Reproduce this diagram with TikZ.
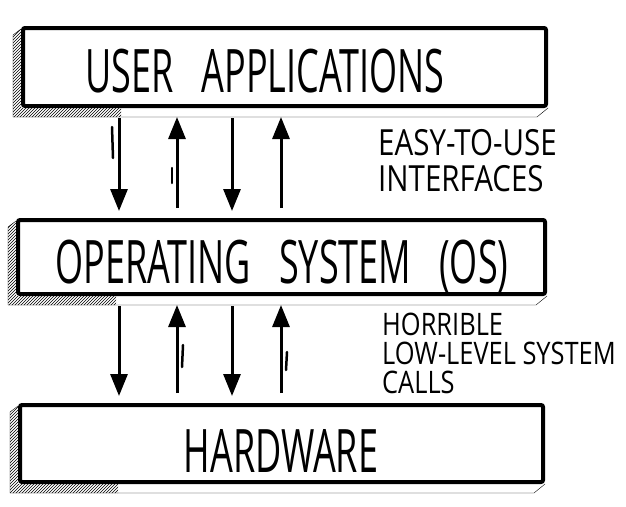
\documentclass[tikz,border=0pt]{standalone}
\usepackage{fontspec}
\newfontfamily\handfont[FakeStretch=0.6,WordSpace=3]{Open Sans}
\newfontfamily\notefont[FakeStretch=0.82]{Open Sans}
\usetikzlibrary{arrows.meta,patterns}

\tikzset{
  layer/.style={draw, line width=4pt, fill=white, rounded corners=2pt, inner sep=0pt},
  title/.style={font=\fontsize{60}{60}\selectfont\handfont, inner sep=0pt, anchor=base},
  note/.style={align=left, anchor=north west, inner sep=0pt},
  call/.style={line width=3pt, -{Triangle[length=22pt,width=17pt]}},
  tick/.style={line width=2.5pt, line cap=round},
  shade/.style={pattern=north east lines}
}

\begin{document}
\begin{tikzpicture}[x=1pt,y=-1pt]
	\useasboundingbox (0,0) rectangle (626,506);
	
	% the three layers
	\node[layer, minimum width=523pt, minimum height=78pt] (user) at (284.5,67) {};
	\node[layer, minimum width=527pt, minimum height=74pt] (os) at (281.5,257) {};
	\node[layer, minimum width=523pt, minimum height=77pt] (hw) at (281.5,443.5) {};
	
	\node[title] (usertext) at (265,92) {USER APPLICATIONS};
	\node[title] (ostext) at (282,283) {OPERATING SYSTEM (OS)};
	\node[title] (hwtext) at (281,472) {HARDWARE};
	
	% hatched sides
	\foreach \b in {user,os,hw}{
		\fill[shade] ([shift={(0,3)}]\b.north west) -- ([shift={(-8,9)}]\b.north west)
			-- ([shift={(-8,9)}]\b.south west) -- ([shift={(100,9)}]\b.south west)
			-- ([shift={(100,0)}]\b.south west) -- (\b.south west) -- cycle;
		\draw[thin] ([shift={(0,3)}]\b.north west) -- ([shift={(-8,9)}]\b.north west)
			-- ([shift={(-8,9)}]\b.south west) -- ([shift={(-11,9)}]\b.south east) -- (\b.south east);
	}
	
	% calls going down
	\foreach \x in {119,232}{
		\draw[call, shorten <=10pt, shorten >=7pt] (\x,0 |- user.south) -- (\x,0 |- os.north);
		\draw[call, shorten <=10pt, shorten >=7pt] (\x,0 |- os.south) -- (\x,0 |- hw.north);
	}
	% answers going up
	\foreach \x in {177,281}{
		\draw[call, shorten <=10pt, shorten >=9pt] (\x,0 |- os.north) -- (\x,0 |- user.south);
		\draw[call, shorten <=10pt, shorten >=9pt] (\x,0 |- hw.north) -- (\x,0 |- os.south);
	}
	
	% sketch marks
	\draw[tick] (112,127) -- (113,158);
	\draw[tick] (172,168) -- (172,183);
	\draw[tick] (183,345) -- (182,367);
	\draw[tick] (287,352) -- (286,370);
	
	\node[note, font=\fontsize{36}{36}\selectfont\notefont] (easy) at (378,129) {EASY-TO-USE\\INTERFACES};
	\node[note, font=\fontsize{31}{29}\selectfont\notefont] (horrible) at (382,313) {HORRIBLE\\LOW-LEVEL SYSTEM\\CALLS};
\end{tikzpicture}
\end{document}
